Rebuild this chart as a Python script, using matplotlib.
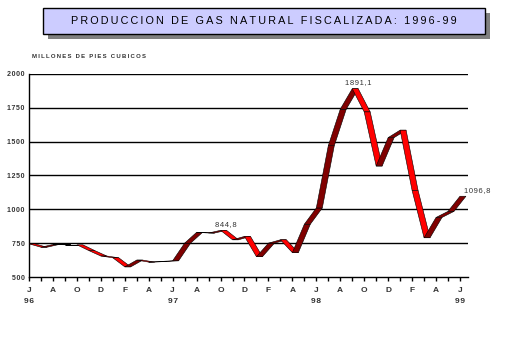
import matplotlib.pyplot as plt
from matplotlib.patches import Rectangle

# monthly production, Jun 1996 .. Jun 1999 (millones de pies cubicos)
months = [ 'J', 'A', 'O', 'D', 'F', 'A' ] * 3 + [ 'J' ]
years = [ '96', '97', '98', '99' ]
production = [
    745, 720, 740, 738, 738, 695, 655,
    642, 575, 625, 610, 615, 620, 750, 830, 825, 844.8, 775, 800,
    650, 750, 775, 680, 890, 1010, 1470, 1740, 1891.1, 1720, 1320, 1530,
    1585, 1140, 790, 940, 985, 1096.8,
]
value_labels = { 16: '844,8', 27: '1891,1', 36: '1096,8' }

W, H = 517, 343
DEPTH = 0.5           # ribbon depth, in months
FONT = [ 'Liberation Sans', 'DejaVu Sans' ]
TXT = '#333333'


def spaced( text, sep='\u200a' ):
    return sep.join( text )


def fig_box( x, y, w, h ):
    # pixel box (from top-left) -> figure fraction
    return ( x / W, 1 - ( y + h ) / H ), w / W, h / H


def draw_ribbon( ax, values ):
    for i in range( len( values ) - 1 ):
        y0, y1 = values[ i ], values[ i + 1 ]
        color = '#800000' if y1 >= y0 else '#ff0000'
        xs = [ i, i + 1, i + 1 + DEPTH, i + DEPTH ]
        ys = [ y0, y1, y1, y0 ]
        ax.fill( xs, ys, facecolor=color, edgecolor='black', linewidth=0.4, zorder=3 )


fig = plt.figure( figsize=( W / 100, H / 100 ), dpi=100 )
fig.patch.set_facecolor( 'white' )

# title box with drop shadow
xy, w, h = fig_box( 48, 13.3, 442.3, 25.7 )
fig.patches.append( Rectangle( xy, w, h, transform=fig.transFigure, facecolor='#808080', edgecolor='none' ) )
xy, w, h = fig_box( 42.7, 8.3, 442.3, 25.7 )
fig.patches.append( Rectangle( xy, w, h, transform=fig.transFigure, facecolor='#ccccff', edgecolor='black', linewidth=1 ) )
fig.text( 263.9 / W, 1 - 21.2 / H, spaced( 'PRODUCCION DE GAS NATURAL FISCALIZADA: 1996-99', '\u2009' ),
          ha='center', va='center', fontsize=7.8, family=FONT, color='black' )

fig.text( 32 / W, 1 - 57 / H, spaced( 'MILLONES DE PIES CUBICOS', '\u2009' ),
          ha='left', va='center', fontsize=4.3, family=FONT, color=TXT, fontweight='bold' )

ax = fig.add_axes( [ 29 / W, 1 - 277 / H, 439 / W, 203 / H ] )
ax.set_xlim( 0, 36.67 )
ax.set_ylim( 500, 2000 )

draw_ribbon( ax, production )

for i, txt in value_labels.items():
    if i == len( production ) - 1:
        ax.annotate( spaced( txt ), ( i, production[ i ] ), xytext=( 3, 4 ), textcoords='offset points',
                     ha='left', va='center', fontsize=5.5, family=FONT, color=TXT )
    else:
        ax.annotate( spaced( txt ), ( i, production[ i ] ), xytext=( 4, 2 ), textcoords='offset points',
                     ha='center', va='bottom', fontsize=5.5, family=FONT, color=TXT )

# y axis: gridlines at every 250
yticks = list( range( 500, 2001, 250 ) )
ax.set_yticks( yticks )
ax.set_yticklabels( [ spaced( str( v ) ) for v in yticks ], fontsize=5, family=FONT, color=TXT, fontweight='bold' )
ax.tick_params( axis='y', length=0, pad=3 )
for v in yticks[ 1: ]:
    ax.axhline( v, color='black', linewidth=1, zorder=1 )

# x axis: a tick per month, a letter every two months
ax.set_xticks( range( 0, 37 ) )
ax.set_xticklabels( [ months[ i // 2 ] if i % 2 == 0 else '' for i in range( 37 ) ],
                    fontsize=6, family=FONT, color=TXT, fontweight='bold' )
ax.tick_params( axis='x', direction='out', length=3, width=1, pad=4 )
for k, yr in enumerate( years ):
    ax.text( k * 12, -0.12, spaced( yr ), transform=ax.get_xaxis_transform(),
             ha='center', va='center', fontsize=6, family=FONT, color=TXT, fontweight='bold' )

for side in [ 'top', 'right' ]:
    ax.spines[ side ].set_visible( False )
for side in [ 'left', 'bottom' ]:
    ax.spines[ side ].set_linewidth( 1 )
ax.set_facecolor( 'none' )

fig.savefig( 'out.png', dpi=100 )
